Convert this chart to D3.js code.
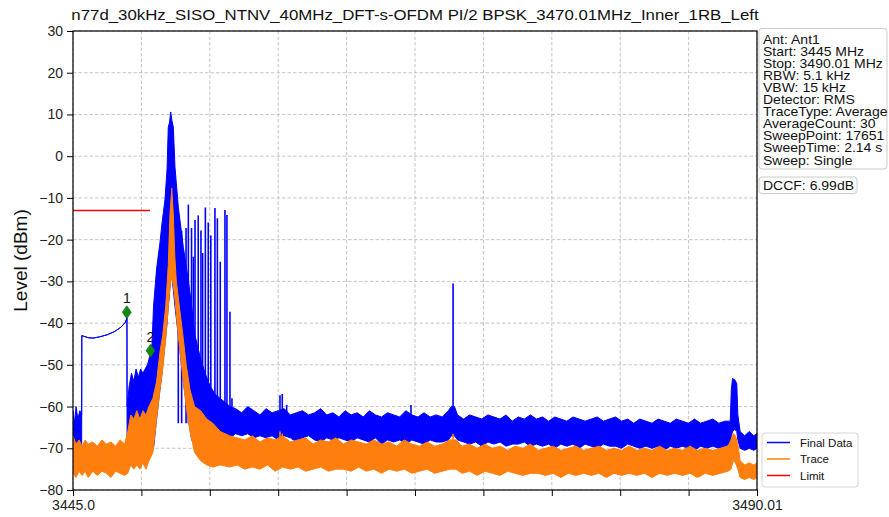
<!DOCTYPE html>
<html>
<head>
<meta charset="utf-8">
<script src="https://cdn.jsdelivr.net/npm/d3@7"></script>
<style>
  body { margin: 0; background: #ffffff; }
  svg { display: block; font-family: "Liberation Sans", Arial, sans-serif; }
</style>
</head>
<body>
<svg id="chart"></svg>
<script>

// ---- data ----
// each row: [frequency MHz, upper level dBm, lower level dBm] of the trace band
const finalData = [
  [3445.00,-61,-71],[3445.10,-64,-70],[3445.20,-60,-69],[3445.32,-63,-70],[3445.45,-61,-70],[3445.57,-62,-70],
  [3445.58,-43.0,-43.0],[3446.00,-43.5,-43.5],[3446.30,-43.6,-43.6],[3446.75,-43.3,-43.3],[3447.25,-42.8,-42.8],
  [3447.75,-42.0,-42.0],[3448.15,-41.0,-41.0],[3448.45,-39.8,-39.8],[3448.55,-38.8,-38.8],
  [3448.56,-60,-72],[3448.70,-55,-68],[3448.85,-52,-66],[3449.00,-54,-65],[3449.15,-51,-66],[3449.30,-53,-64],
  [3449.45,-51,-66],[3449.60,-52,-65],[3449.75,-51,-66],[3449.90,-50,-68],[3450.05,-48,-70],[3450.20,-45,-70],
  [3450.30,-36,-70],[3450.50,-27,-63],[3450.72,-20.8,-56],[3450.86,-16,-52],[3451.05,-10.5,-45],
  [3451.19,-3,-40],[3451.27,7,-36],[3451.35,8,-33],[3451.43,10.6,-29],[3451.51,8.5,-29],[3451.60,7,-32],
  [3451.71,-2.6,-36],[3451.93,-12.2,-43],[3452.26,-21.8,-54],[3452.59,-29.7,-63],[3452.81,-36,-68],
  [3453.03,-43,-69],[3453.36,-48,-68],[3453.69,-52,-68],[3454.01,-55,-67],[3454.34,-57,-67.5],
  [3454.67,-58,-67],[3455.00,-59,-67],[3455.33,-60,-67.5],
  [3455.7,-60.5,-66.5],[3456.1,-61.5,-67],[3456.5,-60,-66.5],[3456.9,-61,-67.5],[3457.3,-62,-67],
  [3457.7,-60.5,-67.5],[3458.1,-61.5,-67],[3458.5,-61,-68],[3458.9,-60.5,-67],[3459.3,-62,-67.5],
  [3459.7,-61.5,-68.5],[3460.1,-61,-67.5],[3460.5,-62,-67],[3460.9,-61.5,-68],[3461.3,-60.5,-68.5],
  [3461.7,-62,-67.5],[3462.1,-61.5,-68],[3462.5,-62.5,-67.5],[3462.9,-61,-68],[3463.3,-62,-68.5],
  [3463.7,-61.5,-67.5],[3464.1,-62.5,-68],[3464.5,-61,-68.5],[3464.9,-62,-67.5],[3465.3,-62.5,-69],
  [3465.7,-61.5,-68],[3466.1,-62,-68.5],[3466.5,-62.5,-68],[3466.9,-61,-69],[3467.3,-62,-68],
  [3467.7,-62.5,-68.5],[3468.1,-61.5,-69],[3468.5,-62.5,-68],[3468.9,-62,-68.5],[3469.3,-62.5,-68.5],
  [3469.7,-61,-68],[3469.9,-60,-67],[3470.1,-60,-67],[3470.3,-62,-68],[3470.7,-63,-68.5],
  [3471.1,-62,-69],[3471.5,-62.5,-68.5],[3471.9,-63,-69.5],[3472.3,-62,-68.5],[3472.7,-62.5,-69],
  [3473.1,-63,-68.5],[3473.5,-62,-69.5],[3473.9,-63.5,-69],[3474.3,-62.5,-69],[3474.7,-63,-68.5],
  [3475.1,-62,-69.5],[3475.5,-63,-69],[3475.9,-62.5,-69.5],[3476.3,-63.5,-69],[3476.7,-62.5,-70],
  [3477.1,-63,-69],[3477.5,-63.5,-69.5],[3477.9,-62.5,-69],[3478.3,-63,-70],[3478.7,-63.5,-69],
  [3479.1,-63,-69.5],[3479.5,-62.5,-70],[3479.9,-63.5,-69],[3480.3,-63,-69.5],[3480.7,-62.5,-69.5],
  [3481.1,-63.5,-70],[3481.5,-63,-69],[3481.9,-64,-69.5],[3482.3,-63,-70],[3482.7,-63.5,-69.5],
  [3483.1,-64,-70],[3483.5,-63,-69.5],[3483.9,-63.5,-70.5],[3484.3,-64,-69.5],[3484.7,-63,-70],
  [3485.1,-63.5,-69.5],[3485.5,-64,-70],[3485.9,-63,-70.5],[3486.3,-64,-69.5],[3486.7,-63.5,-70],
  [3487.1,-63,-69.5],[3487.5,-64,-70],[3487.9,-63.5,-69.5],[3488.25,-63.5,-69],
  [3488.32,-56,-67],[3488.40,-53.3,-66],[3488.55,-53.6,-65.5],[3488.68,-54.5,-66],[3488.75,-62,-68],
  [3488.9,-66,-70],[3489.2,-67,-70.5],[3489.5,-66,-70],[3489.8,-67,-70.5],[3490.01,-66.5,-70]
];

const traceData = [
  [3445.0,-67,-76],[3445.2,-69,-77],[3445.4,-68,-75.5],[3445.6,-69.5,-76.5],[3445.8,-68,-75.5],
  [3446.0,-69,-77],[3446.3,-68.5,-75.5],[3446.6,-69.5,-76.5],[3446.9,-68,-75.5],[3447.2,-69,-76],
  [3447.5,-68.5,-77],[3447.8,-69.5,-75.5],[3448.1,-68,-76],[3448.4,-69,-76.5],[3448.6,-66,-76],
  [3448.8,-62,-74],[3449.0,-63,-75],[3449.2,-61,-74],[3449.4,-63,-75],[3449.6,-61,-73.5],
  [3449.8,-62,-75],[3450.0,-60,-73],[3450.26,-58,-71],[3450.50,-54,-63],[3450.72,-47,-56],
  [3450.90,-43,-51],[3451.10,-36,-44],[3451.27,-26,-36],[3451.38,-14,-31],[3451.50,-7.7,-29],
  [3451.60,-14,-31],[3451.70,-24,-34],[3451.80,-30,-38],[3451.93,-34,-43],[3452.20,-42,-52],
  [3452.45,-50,-60],[3452.70,-56,-66],[3453.00,-60,-71],[3453.40,-61,-73],[3453.80,-63,-74],
  [3454.20,-64,-74.5],[3454.70,-66,-74],[3455.30,-67,-74.5],
  [3455.8,-67.5,-74],[3456.3,-68,-75],[3456.8,-67,-74.5],[3457.3,-68.5,-75],[3457.8,-67.5,-74],
  [3458.3,-68,-75.5],[3458.8,-67,-74.5],[3459.3,-68.5,-75],[3459.8,-68,-74.5],[3460.3,-67.5,-75.5],
  [3460.8,-69,-75],[3461.3,-68,-74.5],[3461.8,-68.5,-75.5],[3462.3,-67.5,-75],[3462.8,-69,-75],
  [3463.3,-68,-75.5],[3463.8,-68.5,-74.5],[3464.3,-69,-75.5],[3464.8,-68,-75],[3465.3,-69,-76],
  [3465.8,-68.5,-75],[3466.3,-69.5,-75.5],[3466.8,-68,-75],[3467.3,-69,-76],[3467.8,-69.5,-75.5],
  [3468.3,-68.5,-75],[3468.8,-69.5,-76],[3469.3,-69,-75.5],[3469.8,-68,-75],[3470.2,-68,-75],
  [3470.6,-69.5,-76],[3471.1,-69,-75.5],[3471.6,-70,-76.5],[3472.1,-69,-75.5],[3472.6,-70,-76],
  [3473.1,-69.5,-76.5],[3473.6,-70.5,-75.5],[3474.1,-69.5,-76],[3474.6,-70,-76.5],[3475.1,-69,-76],
  [3475.6,-70.5,-76],[3476.1,-70,-76.5],[3476.6,-69.5,-76],[3477.1,-70.5,-77],[3477.6,-70,-76],
  [3478.1,-69.5,-76.5],[3478.6,-70.5,-76],[3479.1,-70,-76.5],[3479.6,-69.5,-76],[3480.1,-70.5,-77],
  [3480.6,-70,-76],[3481.1,-70.5,-76.5],[3481.6,-69.5,-76],[3482.1,-70.5,-76.5],[3482.6,-70,-76],
  [3483.1,-70.5,-77],[3483.6,-69.5,-76],[3484.1,-70.5,-76.5],[3484.6,-70,-76],[3485.1,-70.5,-76.5],
  [3485.6,-69.5,-76],[3486.1,-70.5,-77],[3486.6,-70,-76],[3487.1,-70.5,-76.5],[3487.6,-70,-76],
  [3488.1,-69.5,-75.5],[3488.3,-68,-75],[3488.45,-66.5,-73],[3488.6,-67,-73.5],[3488.75,-69,-75],
  [3488.9,-73,-77],[3489.2,-74,-77.5],[3489.5,-73.5,-77],[3489.8,-74,-77.5],[3490.01,-73.5,-77]
];

// narrow spurs sticking out of the bands
const finalSpurFreq  = [3451.93, 3452.15, 3452.44, 3452.59, 3452.80, 3452.92, 3453.03, 3453.24, 3453.42, 3453.53,
                        3453.71, 3453.90, 3454.07, 3454.34, 3454.50, 3454.69, 3455.00, 3455.13, 3455.33, 3455.46,
                        3458.62, 3458.77, 3459.06, 3467.24, 3470.01];
const finalSpurLevel = [-14.1, -17.9, -17.2, -11.6, -17.2, -24.1, -15.3, -14.2, -17.8, -23.2,
                        -12.3, -15.9, -19.0, -12.4, -14.9, -25.3, -12.9, -14.1, -37.3, -58.0,
                        -57.3, -57.0, -59.6, -59.6, -30.5];
const traceSpurFreq  = [3458.62, 3458.77, 3470.01];
const traceSpurLevel = [-66.0, -66.5, -66.5];

const limitFreq  = [3445.0, 3450.07];
const limitLevel = [-13, -13];

const markerFreq  = [3448.54, 3450.10];
const markerLevel = [-37.4, -46.6];
const markerLabel = ["1", "2"];

const xTickValues = [3445.0, 3449.501, 3454.002, 3458.503, 3463.004, 3467.505, 3472.006, 3476.507, 3481.008, 3485.509, 3490.01];
const xTickLabels = ["3445.0", "", "", "", "", "", "", "", "", "", "3490.01"];
const yTickValues = [-80, -70, -60, -50, -40, -30, -20, -10, 0, 10, 20, 30];

const infoLines = ["Ant: Ant1", "Start: 3445 MHz", "Stop: 3490.01 MHz", "RBW: 5.1 kHz", "VBW: 15 kHz",
                   "Detector: RMS", "TraceType: Average", "AverageCount: 30", "SweepPoint: 17651",
                   "SweepTime: 2.14 s", "Sweep: Single"];
const dccfText = "DCCF: 6.99dB";
const legendNames  = ["Final Data", "Trace", "Limit"];
const legendColors = ["#0000ff", "#ff7f0e", "#ff0000"];

const titleText = "n77d_30kHz_SISO_NTNV_40MHz_DFT-s-OFDM PI/2 BPSK_3470.01MHz_Inner_1RB_Left";

// ---- layout ----
const W = 889, H = 517;
const margin = { top: 31, right: 132, bottom: 27, left: 73 };
const width = W - margin.left - margin.right;
const height = H - margin.top - margin.bottom;

const svg = d3.select('#chart')
    .attr('width', W)
    .attr('height', H);

svg.append('rect').attr('width', W).attr('height', H).attr('fill', '#ffffff');

const chart = svg.append('g')
    .attr('transform', `translate(${margin.left},${margin.top})`);

// scales
const x = d3.scaleLinear().domain([3445.0, 3490.01]).range([0, width]);
const y = d3.scaleLinear().domain([-80, 30]).range([height, 0]);

// grid
chart.append('g').selectAll('line').data(xTickValues).join('line')
    .attr('x1', d => x(d)).attr('x2', d => x(d))
    .attr('y1', 0).attr('y2', height)
    .attr('stroke', '#b8b8b8').attr('stroke-width', 0.8).attr('stroke-dasharray', '3.5,2');
chart.append('g').selectAll('line').data(yTickValues).join('line')
    .attr('x1', 0).attr('x2', width)
    .attr('y1', d => y(d)).attr('y2', d => y(d))
    .attr('stroke', '#b8b8b8').attr('stroke-width', 0.8).attr('stroke-dasharray', '3.5,2');

// clip traces to plot area
svg.append('defs').append('clipPath').attr('id', 'plot-clip')
  .append('rect').attr('width', width).attr('height', height);
const plot = chart.append('g').attr('clip-path', 'url(#plot-clip)');

const band = d3.area()
    .x(d => x(d[0]))
    .y0(d => y(d[2]))
    .y1(d => y(d[1]));

// Final Data (blue)
plot.append('path')
    .datum(finalData)
    .attr('d', band)
    .attr('fill', '#0000ff')
    .attr('stroke', '#0000ff')
    .attr('stroke-width', 1)
    .attr('stroke-linejoin', 'round');

plot.append('g').selectAll('line')
    .data(d3.zip(finalSpurFreq, finalSpurLevel))
    .join('line')
    .attr('x1', d => x(d[0])).attr('x2', d => x(d[0]))
    .attr('y1', d => y(d[1])).attr('y2', y(-64))
    .attr('stroke', '#0000ff').attr('stroke-width', 1.6);

// Trace (orange) on top
plot.append('path')
    .datum(traceData)
    .attr('d', band)
    .attr('fill', '#ff7f0e')
    .attr('stroke', '#ff7f0e')
    .attr('stroke-width', 1)
    .attr('stroke-linejoin', 'round');

plot.append('g').selectAll('line')
    .data(d3.zip(traceSpurFreq, traceSpurLevel))
    .join('line')
    .attr('x1', d => x(d[0])).attr('x2', d => x(d[0]))
    .attr('y1', d => y(d[1])).attr('y2', y(-72))
    .attr('stroke', '#ff7f0e').attr('stroke-width', 1.6);

// Limit (red)
plot.append('path')
    .datum(d3.zip(limitFreq, limitLevel))
    .attr('d', d3.line().x(d => x(d[0])).y(d => y(d[1])))
    .attr('fill', 'none')
    .attr('stroke', '#ff0000')
    .attr('stroke-width', 1.5);

// markers
const markers = chart.append('g').selectAll('g')
    .data(d3.zip(markerFreq, markerLevel, markerLabel))
    .join('g')
    .attr('transform', d => `translate(${x(d[0])},${y(d[1])})`);
markers.append('path')
    .attr('d', 'M0,-6.5L4.5,0L0,6.5L-4.5,0Z')
    .attr('fill', '#108a10')
    .attr('stroke', '#0a6a0a')
    .attr('stroke-width', 0.6);
markers.append('text')
    .attr('y', -9)
    .attr('text-anchor', 'middle')
    .style('font-size', '14px')
    .attr('fill', '#111')
    .text(d => d[2]);

// axes
const xAxis = d3.axisBottom(x)
    .tickValues(xTickValues)
    .tickFormat((d, i) => xTickLabels[i])
    .tickSize(6).tickPadding(4);
const yAxis = d3.axisLeft(y)
    .tickValues(yTickValues)
    .tickFormat(d => d < 0 ? '\u2212' + Math.abs(d) : d)
    .tickSize(6).tickPadding(4);

const xAxisG = chart.append('g')
    .attr('class', 'axis x-axis')
    .attr('transform', `translate(0,${height})`)
    .call(xAxis);
const yAxisG = chart.append('g')
    .attr('class', 'axis y-axis')
    .call(yAxis);

[xAxisG, yAxisG].forEach(g => {
  g.select('.domain').remove();
  g.selectAll('line').attr('stroke', '#000').attr('stroke-width', 1);
  g.selectAll('text')
    .attr('fill', '#222')
    .style('font-family', '"Liberation Sans", Arial, sans-serif')
    .style('font-size', '14px');
});

// frame
chart.append('rect')
    .attr('width', width).attr('height', height)
    .attr('fill', 'none').attr('stroke', '#000').attr('stroke-width', 1.2);

// title (the screenshot is a little wider than tall, so stretch text sideways)
svg.append('text')
    .attr('transform', `translate(${margin.left + width / 2},20) scale(1.085,1)`)
    .attr('text-anchor', 'middle')
    .style('font-size', '15.5px')
    .attr('fill', '#111')
    .text(titleText);

// y axis title
svg.append('text')
    .attr('transform', `translate(27,${margin.top + height / 2}) rotate(-90)`)
    .attr('text-anchor', 'middle')
    .style('font-size', '19px')
    .attr('fill', '#111')
    .text('Level (dBm)');

// info box
const info = svg.append('g');
info.append('rect')
    .attr('x', 759).attr('y', 28.5).attr('width', 128).attr('height', 140.5)
    .attr('rx', 3)
    .attr('fill', '#fff').attr('stroke', '#cccccc').attr('stroke-width', 1);
info.selectAll('text').data(infoLines).join('text')
    .attr('transform', (d, i) => `translate(763,${44 + i * 12.05}) scale(1.12,1)`)
    .style('font-size', '12.5px')
    .attr('fill', '#111')
    .text(d => d);

svg.append('rect')
    .attr('x', 759).attr('y', 177).attr('width', 98).attr('height', 16.5)
    .attr('rx', 3)
    .attr('fill', '#fff').attr('stroke', '#cccccc').attr('stroke-width', 1);
svg.append('text')
    .attr('transform', 'translate(763,190) scale(1.12,1)')
    .style('font-size', '12.5px')
    .attr('fill', '#111')
    .text(dccfText);

// legend
const legend = svg.append('g').attr('transform', 'translate(762,433)');
legend.append('rect')
    .attr('width', 96).attr('height', 54).attr('rx', 3)
    .attr('fill', '#fff').attr('fill-opacity', 0.85)
    .attr('stroke', '#d6d6d6').attr('stroke-width', 1);
const rows = legend.selectAll('g.row').data(legendNames).join('g')
    .attr('class', 'row')
    .attr('transform', (d, i) => `translate(0,${9.5 + i * 16.5})`);
rows.append('line')
    .attr('x1', 5).attr('x2', 28)
    .attr('stroke', (d, i) => legendColors[i])
    .attr('stroke-width', 1.5);
rows.append('text')
    .attr('x', 38).attr('y', 4)
    .style('font-size', '11.5px')
    .attr('fill', '#111')
    .text(d => d);

</script>
</body>
</html>
